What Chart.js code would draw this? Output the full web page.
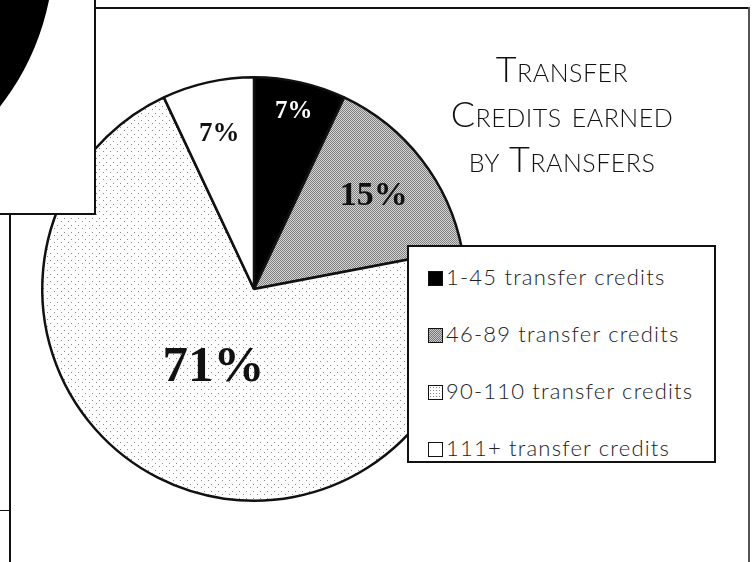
<!DOCTYPE html>
<html lang="en">
<head>
<meta charset="UTF-8">
<title>Transfer Credits Earned by Transfers</title>
<script src="https://cdn.jsdelivr.net/npm/chart.js"></script>
<style>
    html, body { margin: 0; padding: 0; background: #fff; }
    #wrap { position: relative; width: 752px; height: 562px; overflow: hidden; }
    #pieChart { position: absolute; left: 0; top: 0; }
    .line { position: absolute; background: #111; }
    #sideBox {
        position: absolute; left: 0; top: 0; width: 94px; height: 213px;
        background: #fff; border-right: 2px solid #111; border-bottom: 2px solid #111;
        overflow: hidden;
    }
    #sideBox .blob {
        position: absolute; left: -454px; top: -304px; width: 508px; height: 508px;
        border-radius: 50%; background: #000;
    }
    #title {
        position: absolute; left: 412px; top: 46px; width: 300px;
        text-align: center; font-family: Lato, "Open Sans", sans-serif; font-weight: 300;
        font-size: 36px; line-height: 45px; font-variant: small-caps; color: #111;
        letter-spacing: 0.5px;
    }
    #legend {
        position: absolute; left: 407px; top: 245px; width: 309px; height: 218px;
        background: #fff; border: 2px solid #111; padding: 1px 0 0 19px; box-sizing: border-box;
        font-family: Lato, "Open Sans", sans-serif; font-weight: 300; font-size: 22px; color: #222;
        letter-spacing: 1.2px;
    }
    #legend .item { height: 57px; line-height: 57px; white-space: nowrap; }
    #legend .sw {
        display: inline-block; width: 13px; height: 13px; border: 1.5px solid #111;
        margin-right: 3px; vertical-align: -1px; background-color: #fff;
    }
</style>
</head>
<body>
<div id="wrap">
    <canvas id="pieChart" width="752" height="562"></canvas>
    <div class="line" style="left:94px; top:7px; width:656px; height:2px;"></div>
    <div class="line" style="left:748px; top:7px; width:2px; height:555px; background:#555;"></div>
    <div class="line" style="left:9px; top:213px; width:2px; height:349px;"></div>
    <div class="line" style="left:0; top:510px; width:9px; height:1px;"></div>
    <div id="sideBox"><div class="blob"></div></div>
    <div id="title">Transfer<br>Credits earned<br>by Transfers</div>
    <div id="legend"></div>
</div>

<script>
    const categories = ['1-45 transfer credits', '46-89 transfer credits', '90-110 transfer credits', '111+ transfer credits'];
    const shares = [7, 15, 71, 7];

    // how far out each percentage sits, as a fraction of the radius
    const labelRadius = [0.86, 0.715, 0.42, 0.75];
    const labelFont = ['bold 25px "Liberation Serif"', 'bold 34px "Liberation Serif"', 'bold 51px "Liberation Serif"', 'bold 27px "Liberation Serif"'];
    const labelColor = ['#fff', '#111', '#111', '#111'];

    function makePattern(base, dotColor, size, dots) {
        const c = document.createElement('canvas');
        c.width = size; c.height = size;
        const g = c.getContext('2d');
        g.fillStyle = base;
        g.fillRect(0, 0, size, size);
        g.fillStyle = dotColor;
        dots.forEach(d => g.fillRect(d[0], d[1], 1, 1));
        return g.createPattern(c, 'repeat');
    }

    const ctx = document.getElementById('pieChart').getContext('2d');
    const grayFill = makePattern('#d4d4d4', '#808080', 4, [[0, 0], [2, 0], [1, 1], [3, 1], [0, 2], [2, 2], [1, 3], [3, 3]]);
    const dotFill = makePattern('#ffffff', '#8a8a8a', 7, [[1, 1], [5, 4]]);
    const fills = ['#000000', grayFill, dotFill, '#ffffff'];

    const pctLabels = {
        id: 'pctLabels',
        afterDatasetsDraw(chart) {
            const c = chart.ctx;
            const arcs = chart.getDatasetMeta(0).data;
            arcs.forEach((arc, i) => {
                const p = arc.getProps(['x', 'y', 'startAngle', 'endAngle', 'outerRadius'], true);
                const mid = (p.startAngle + p.endAngle) / 2;
                const r = p.outerRadius * labelRadius[i];
                c.save();
                c.font = labelFont[i];
                c.fillStyle = labelColor[i];
                c.textAlign = 'center';
                c.textBaseline = 'middle';
                c.fillText(shares[i] + '%', p.x + Math.cos(mid) * r, p.y + Math.sin(mid) * r);
                c.restore();
            });
        }
    };

    new Chart(ctx, {
        type: 'pie',
        data: {
            labels: categories,
            datasets: [{
                data: shares,
                backgroundColor: fills,
                borderColor: '#111',
                borderWidth: 2.5
            }]
        },
        options: {
            responsive: false,
            animation: false,
            events: [],
            layout: { padding: { left: 41, top: 76, right: 285, bottom: 60 } },
            plugins: {
                legend: { display: false },
                tooltip: { enabled: false }
            }
        },
        plugins: [pctLabels]
    });

    // legend box built from the same categories
    const swatchCss = [
        'background:#000;',
        'background-color:#c8c8c8; background-image:repeating-conic-gradient(#777 0 25%, transparent 0 50%); background-size:2px 2px;',
        'background-image:radial-gradient(#888 0.7px, transparent 0.9px); background-size:3px 3px;',
        'background:#fff;'
    ];
    const legendEl = document.getElementById('legend');
    categories.forEach((name, i) => {
        const row = document.createElement('div');
        row.className = 'item';
        row.innerHTML = '<span class="sw" style="' + swatchCss[i] + '"></span>' + name;
        legendEl.appendChild(row);
    });
</script>
</body>
</html>
